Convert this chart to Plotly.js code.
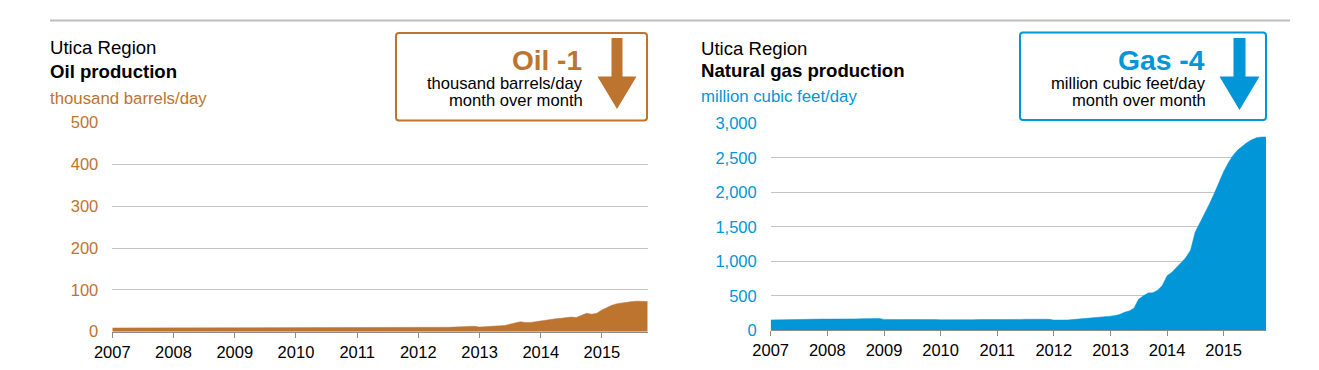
<!DOCTYPE html>
<html>
<head>
<meta charset="utf-8">
<script src="https://cdn.plot.ly/plotly-3.0.1.min.js"></script>
<style>html,body{margin:0;padding:0;background:#fff;}#chart{width:1319px;height:370px;}</style>
</head>
<body>
<div id="chart"></div>
<script>
// ---- data (monthly, Jan 2007 .. Oct 2015) ----
const startYear = 2007;
const yearTicks = ['2007','2008','2009','2010','2011','2012','2013','2014','2015'];
const oilValues = [
  9,9,9.5,10,10,10,10.5,10.5,10.5,10.5,10.5,10.5,
  10.5,10.5,10.5,10.5,10.5,10.5,10.5,10.5,10.5,10.5,10.5,10,
  9.5,9.5,9.5,9.5,9.5,9.5,9.5,9.5,9.5,9.5,9,9,
  9,9,9,9,9,9,9,9,9,9,9,9,
  9,9,9,9,9,9,9,9,9,9,9,9,
  9,9,9,9,9.5,10,10.5,11,11.5,12,12.5,13,
  11,11.5,12,12.5,13.5,15,18,21,24,22,22,24,
  26,28,30,31,32,34,35,34,39,44,42,44,
  52,58,63,67,69,71,72,73,73,72
];
const gasValues = [
  150,152,153,154,155,156,157,158,160,162,163,163,
  162,161,160,160,162,164,165,166,168,170,172,172,
  158,155,154,154,155,156,157,157,158,158,157,155,
  152,151,150,150,151,152,153,154,155,155,153,150,
  148,148,150,152,155,158,160,162,163,164,163,160,
  148,146,147,150,155,160,168,175,182,188,190,195,
  205,215,230,260,280,320,450,500,540,545,580,650,
  790,840,900,980,1050,1160,1420,1560,1680,1830,1980,2150,
  2300,2430,2530,2610,2670,2720,2760,2790,2800,2800
];
const oilTitle = ['Utica Region','Oil production','thousand barrels/day'];
const gasTitle = ['Utica Region','Natural gas production','million cubic feet/day'];
const oilBox = ['Oil -1','thousand barrels/day','month over month'];
const gasBox = ['Gas -4','million cubic feet/day','month over month'];

function monthDates(n){
  const out=[];
  for(let i=0;i<n;i++){
    const y=startYear+Math.floor(i/12), m=(i%12)+1;
    out.push(y+'-'+(m<10?'0':'')+m+'-01');
  }
  return out;
}
const oilDates = monthDates(oilValues.length);
const gasDates = monthDates(gasValues.length);

const ORANGE = '#BD742E';
const BLUE = '#0096D7';
const FONT = 'Liberation Sans, Arial, sans-serif';
const W = 1319, H = 370;
const px = x => x / W;
const py = y => 1 - y / H;

const traces = [
  {x: oilDates, y: oilValues, type:'scatter', mode:'lines', fill:'tozeroy',
   line:{color:ORANGE, width:0.5}, fillcolor:ORANGE, xaxis:'x', yaxis:'y', hoverinfo:'skip'},
  {x: gasDates, y: gasValues, type:'scatter', mode:'lines', fill:'tozeroy',
   line:{color:BLUE, width:0.5}, fillcolor:BLUE, xaxis:'x2', yaxis:'y2', hoverinfo:'skip'}
];

const tickVals = yearTicks.map(y => y + '-01-01');
function xAxis(domain, anchor, endDate){
  return {domain: domain, anchor: anchor, type:'date',
    range:['2007-01-01', endDate],
    tickvals: tickVals, ticktext: yearTicks, ticks:'outside', ticklen:5, tickcolor:'#8c8c8c',
    showgrid:false, showline:true, linecolor:'#8c8c8c', linewidth:1, zeroline:false,
    tickfont:{family:FONT, size:16.5, color:'#000'}, fixedrange:true};
}
function yAxis(domain, anchor, range, dtick, fmt, color){
  return {domain: domain, anchor: anchor, range: range, dtick: dtick, tickformat: fmt,
    ticks:'', showgrid:true, gridcolor:'#c4c4c4', gridwidth:1, showline:false, zeroline:false,
    tickfont:{family:FONT, size:16.5, color:color}, ticklabelstandoff:13, fixedrange:true};
}

function roundRect(x0,y0,x1,y1,r){
  const X=v=>px(v), Y=v=>py(v);
  return 'M'+X(x0+r)+','+Y(y0)+' L'+X(x1-r)+','+Y(y0)+' Q'+X(x1)+','+Y(y0)+' '+X(x1)+','+Y(y0+r)+
    ' L'+X(x1)+','+Y(y1-r)+' Q'+X(x1)+','+Y(y1)+' '+X(x1-r)+','+Y(y1)+
    ' L'+X(x0+r)+','+Y(y1)+' Q'+X(x0)+','+Y(y1)+' '+X(x0)+','+Y(y1-r)+
    ' L'+X(x0)+','+Y(y0+r)+' Q'+X(x0)+','+Y(y0)+' '+X(x0+r)+','+Y(y0)+' Z';
}
function arrow(cx, top, headTop, tip, shaftW, headW){
  const X=v=>px(v), Y=v=>py(v), s=shaftW/2, h=headW/2;
  return 'M'+X(cx-s)+','+Y(top)+' L'+X(cx+s)+','+Y(top)+' L'+X(cx+s)+','+Y(headTop)+
    ' L'+X(cx+h)+','+Y(headTop)+' L'+X(cx)+','+Y(tip)+' L'+X(cx-h)+','+Y(headTop)+
    ' L'+X(cx-s)+','+Y(headTop)+' Z';
}

const shapes = [
  {type:'line', xref:'paper', yref:'paper', x0:px(50), x1:px(1290), y0:py(20.5), y1:py(20.5),
   line:{color:'#bdbdbd', width:2}},
  {type:'path', xref:'paper', yref:'paper', path: roundRect(396,33,647,120.5,3), line:{color:ORANGE, width:2}},
  {type:'path', xref:'paper', yref:'paper', path: roundRect(1020,32.5,1266,120,3), line:{color:BLUE, width:2}},
  {type:'path', xref:'paper', yref:'paper', path: arrow(617,38,76.5,109,11,39), fillcolor:ORANGE, line:{width:0}},
  {type:'path', xref:'paper', yref:'paper', path: arrow(1239.5,38,76.5,110,12,40), fillcolor:BLUE, line:{width:0}}
];

function ann(text, x, y, size, color, xanchor, bold){
  return {text: bold ? '<b>'+text+'</b>' : text, xref:'paper', yref:'paper', x:px(x), y:py(y),
    xanchor:xanchor, yanchor:'middle', showarrow:false, borderpad:0,
    font:{family:FONT, size:size, color:color}};
}
const annotations = [
  ann(oilTitle[0], 48.5, 47.5, 18.6, '#000', 'left', false),
  ann(oilTitle[1], 48.5, 71.5, 18.6, '#000', 'left', true),
  ann(oilTitle[2], 48.5, 98.5, 16.8, ORANGE, 'left', false),
  ann(gasTitle[0], 700.5, 49, 18.6, '#000', 'left', false),
  ann(gasTitle[1], 700.5, 70.5, 18.6, '#000', 'left', true),
  ann(gasTitle[2], 700.5, 96.5, 16.8, BLUE, 'left', false),
  ann(oilBox[0], 583, 60, 28, ORANGE, 'right', true),
  ann(oilBox[1], 583.5, 83.5, 16.6, '#000', 'right', false),
  ann(oilBox[2], 583.5, 100.5, 16.6, '#000', 'right', false),
  ann(gasBox[0], 1206, 60, 28.3, BLUE, 'right', true),
  ann(gasBox[1], 1206.5, 83.5, 16.6, '#000', 'right', false),
  ann(gasBox[2], 1206.5, 100.5, 16.6, '#000', 'right', false)
];

const layout = {
  width: W, height: H, margin:{l:0,r:0,t:0,b:0},
  paper_bgcolor:'#fff', plot_bgcolor:'#fff', showlegend:false,
  xaxis: xAxis([px(112.3), px(647.7)], 'y', oilDates[oilDates.length-1]),
  yaxis: yAxis([py(331.7), py(122.6)], 'x', [0,500], 100, ',d', ORANGE),
  xaxis2: xAxis([px(770.7), px(1266)], 'y2', gasDates[gasDates.length-1]),
  yaxis2: yAxis([py(330.3), py(123.2)], 'x2', [0,3000], 500, ',d', BLUE),
  shapes: shapes, annotations: annotations,
  font:{family:FONT}
};

Plotly.newPlot('chart', traces, layout, {staticPlot:true, displayModeBar:false});
</script>
</body>
</html>
